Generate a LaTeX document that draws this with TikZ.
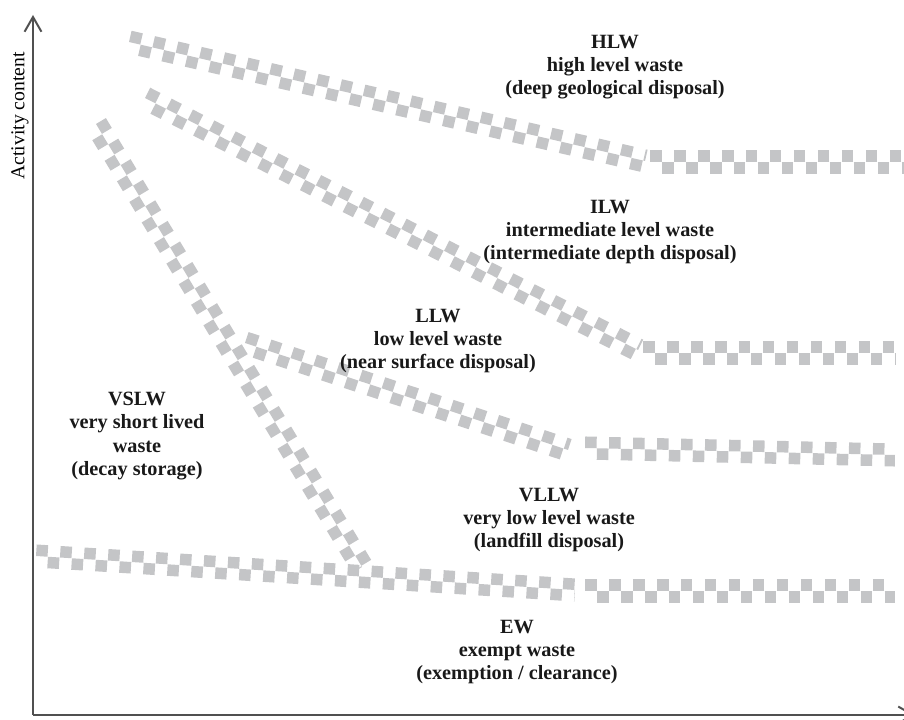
\documentclass[tikz,border=0pt]{standalone}
\usepackage{fontspec}
\setmainfont{Liberation Serif}
\usetikzlibrary{calc,arrows.meta}
\definecolor{bandgray}{RGB}{196,197,199}
\definecolor{axisgray}{RGB}{80,80,80}
\begin{document}
\begin{tikzpicture}[x=0.025cm, y=-0.025cm,
    axis/.style={draw=axisgray, line width=1.4pt, -{Straight Barb[length=10.5pt,width=12pt]}},
    bandtop/.style={draw=bandgray, line width=8.2pt, dash pattern=on 8.2pt off 8.86pt},
    bandbot/.style={bandtop, dash phase=8.53pt},
    classlabel/.style={align=center, text=black!90, font=\bfseries\fontsize{14.4}{16.6}\selectfont}]
    \useasboundingbox (0,0) rectangle (904,720);
    \begin{scope}[]
    % Axes
    \coordinate (origin) at (33,715);
    \coordinate (ytop) at (33,15);
    \coordinate (xend) at (915,715);
    \draw[axis] (origin) -- (ytop);
    \draw[axis] (origin) -- (xend);
    \node (ylabel) at (20,116) [rotate=90, font=\fontsize{14}{16}\selectfont] {Activity content};

    % Band end points
    \coordinate (hlwA) at (129,42);
    \coordinate (hlwB) at (645,161);
    \coordinate (hlwC) at (650,162);
    \coordinate (hlwD) at (912,162);
    \coordinate (ilwA) at (145,98);
    \coordinate (ilwB) at (638,350);
    \coordinate (ilwC) at (643,353);
    \coordinate (ilwD) at (895,353);
    \coordinate (llwA) at (245,343);
    \coordinate (llwB) at (568,450);
    \coordinate (llwC) at (585,448);
    \coordinate (llwD) at (895,455);
    \coordinate (vslwA) at (96,124);
    \coordinate (vslwB) at (362,567);
    \coordinate (ewA) at (36,556);
    \coordinate (ewB) at (575,590);
    \coordinate (ewC) at (585,591);
    \coordinate (ewD) at (895,591);

    % Bands, two rows of squares each
    \foreach \a/\b in {hlwA/hlwB, hlwC/hlwD, ilwA/ilwB, ilwC/ilwD, llwA/llwB, llwC/llwD, vslwA/vslwB, ewA/ewB, ewC/ewD}
    {
        \draw[bandtop] ($(\a)!4.1pt!90:(\b)$) -- ($(\b)!4.1pt!-90:(\a)$);
        \draw[bandbot] ($(\a)!4.1pt!-90:(\b)$) -- ($(\b)!4.1pt!90:(\a)$);
    }

    % Waste classes
    \node (hlw) at (615,67) [classlabel] {HLW\\high level waste\\(deep geological disposal)};
    \node (ilw) at (610,232) [classlabel] {ILW\\intermediate level waste\\(intermediate depth disposal)};
    \node (llw) at (438,341) [classlabel] {LLW\\low level waste\\(near surface disposal)};
    \node (vslw) at (137,436) [classlabel] {VSLW\\very short lived\\waste\\(decay storage)};
    \node (vllw) at (549,520) [classlabel] {VLLW\\very low level waste\\(landfill disposal)};
    \node (ew) at (517,652) [classlabel] {EW\\exempt waste\\(exemption / clearance)};
    \end{scope}
\end{tikzpicture}
\end{document}
